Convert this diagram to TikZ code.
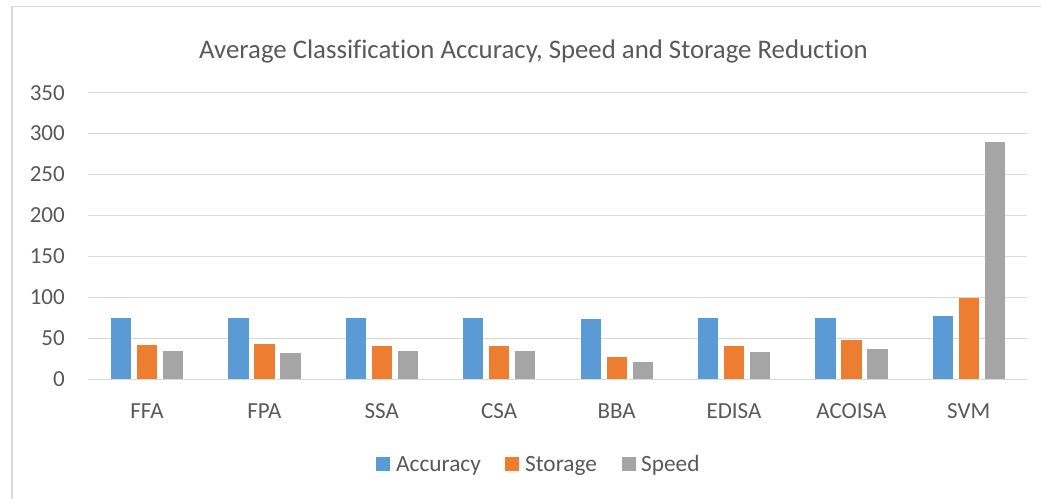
\documentclass[tikz,border=0pt]{standalone}
\usepackage{fontspec}
\setmainfont{Carlito}[Ligatures=NoCommon]
\usepackage{tikz}

\definecolor{accblue}{HTML}{5B9BD5}
\definecolor{storeorange}{HTML}{ED7D31}
\definecolor{speedgray}{HTML}{A5A5A5}
\definecolor{gridgray}{HTML}{D9D9D9}
\definecolor{labelgray}{HTML}{595959}

\begin{document}
\begin{tikzpicture}[x=1pt, y=1pt,
        ticklabel/.style={anchor=east, inner sep=0pt, text=labelgray, font=\fontsize{23}{28}\selectfont},
        catlabel/.style={anchor=base, inner sep=0pt, text=labelgray, font=\fontsize{23}{28}\selectfont},
        legtext/.style={anchor=base west, inner sep=0pt, text=labelgray, font=\fontsize{23.3}{28}\selectfont},
        legkey/.style={minimum size=14pt, inner sep=0pt},
        gridline/.style={draw=gridgray, line width=1.3pt},
        accbar/.style={fill=accblue},
        storebar/.style={fill=storeorange},
        speedbar/.style={fill=speedgray}]
        \useasboundingbox (-88.3,-118.7) rectangle (952.7,379.3);
        \clip (-88.3,-118.7) rectangle (952.7,379.3);

        % the chart frame
        \draw[draw=gridgray, line width=1.8pt] (-76.3,-140) rectangle (980,372.8);

        % the title
        \node[anchor=base, inner sep=0pt, text=labelgray, font=\fontsize{26.8}{32}\selectfont] (title) at (445.2,321)
            {Average Classification Accuracy, Speed and Storage Reduction};

        \begin{scope}[y=0.819pt]
        % draw the grid
        \draw[gridline] (0,0) -- (938.4,0);
        \draw[gridline] (0,50) -- (938.4,50);
        \draw[gridline] (0,100) -- (938.4,100);
        \draw[gridline] (0,150) -- (938.4,150);
        \draw[gridline] (0,200) -- (938.4,200);
        \draw[gridline] (0,250) -- (938.4,250);
        \draw[gridline] (0,300) -- (938.4,300);
        \draw[gridline] (0,350) -- (938.4,350);

        % the tick labels
        \node[ticklabel] (t0) at (-23.3,0) {0};
        \node[ticklabel] (t50) at (-23.3,50) {50};
        \node[ticklabel] (t100) at (-23.3,100) {100};
        \node[ticklabel] (t150) at (-23.3,150) {150};
        \node[ticklabel] (t200) at (-23.3,200) {200};
        \node[ticklabel] (t250) at (-23.3,250) {250};
        \node[ticklabel] (t300) at (-23.3,300) {300};
        \node[ticklabel] (t350) at (-23.3,350) {350};

        % draw the bars
        \fill[accbar] (22.6,0) rectangle (42.9,75);
        \fill[storebar] (48.6,0) rectangle (68.9,42);
        \fill[speedbar] (74.6,0) rectangle (94.9,34);

        \fill[accbar] (140,0) rectangle (160.3,75);
        \fill[storebar] (166,0) rectangle (186.3,43);
        \fill[speedbar] (192,0) rectangle (212.3,32.5);

        \fill[accbar] (257.4,0) rectangle (277.7,75);
        \fill[storebar] (283.4,0) rectangle (303.7,41);
        \fill[speedbar] (309.4,0) rectangle (329.7,35);

        \fill[accbar] (374.8,0) rectangle (395.1,75);
        \fill[storebar] (400.8,0) rectangle (421.1,41);
        \fill[speedbar] (426.8,0) rectangle (447.1,35);

        \fill[accbar] (492.2,0) rectangle (512.5,73.3);
        \fill[storebar] (518.2,0) rectangle (538.5,27.6);
        \fill[speedbar] (544.2,0) rectangle (564.5,21);

        \fill[accbar] (609.6,0) rectangle (629.9,75);
        \fill[storebar] (635.6,0) rectangle (655.9,40.7);
        \fill[speedbar] (661.6,0) rectangle (681.9,33.4);

        \fill[accbar] (727,0) rectangle (747.3,75);
        \fill[storebar] (753,0) rectangle (773.3,48);
        \fill[speedbar] (779,0) rectangle (799.3,36.6);

        \fill[accbar] (844.4,0) rectangle (864.7,77.7);
        \fill[storebar] (870.4,0) rectangle (890.7,99.6);
        \fill[speedbar] (896.4,0) rectangle (916.7,289.7);
        \end{scope}

        % the category texts
        \node[catlabel] (ffa) at (58.7,-39) {FFA};
        \node[catlabel] (fpa) at (176.1,-39) {FPA};
        \node[catlabel] (ssa) at (293.5,-39) {SSA};
        \node[catlabel] (csa) at (410.9,-39) {CSA};
        \node[catlabel] (bba) at (528.3,-39) {BBA};
        \node[catlabel] (edisa) at (645.7,-39) {EDISA};
        \node[catlabel] (acoisa) at (763.1,-39) {ACOISA};
        \node[catlabel] (svm) at (880.5,-39) {SVM};

        % the legend
        \node[legkey, fill=accblue] (acckey) at (294.7,-84.9) {};
        \node[legtext] (accleg) at (307.7,-91.7) {Accuracy};
        \node[legkey, fill=storeorange] (storekey) at (423.7,-84.9) {};
        \node[legtext] (storeleg) at (436.7,-91.7) {Storage};
        \node[legkey, fill=speedgray] (speedkey) at (540.7,-84.9) {};
        \node[legtext] (speedleg) at (552.7,-91.7) {Speed};

    \end{tikzpicture}
\end{document}
